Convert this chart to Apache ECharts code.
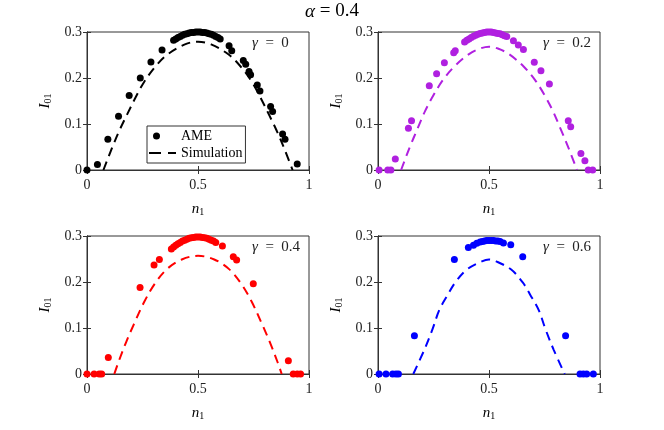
<!DOCTYPE html>
<html>
<head>
<meta charset="utf-8">
<script src="https://cdn.jsdelivr.net/npm/echarts@6/dist/echarts.min.js"></script>
<style>
html,body{margin:0;padding:0;background:#fff;}
#c{width:664px;height:430px;}
</style>
</head>
<body>
<div id="c"></div>
<script>
// ---- data ----
const gammaLabels = ['0', '0.2', '0.4', '0.6'];
const colors = ['#000000', '#b020e0', '#ff0000', '#0000ff'];
const xTicks = [0, 0.5, 1];
const yTicks = [0, 0.1, 0.2, 0.3];

// AME points, gamma = 0
const ame0X = [0, 0.047, 0.094, 0.142, 0.19, 0.24, 0.288, 0.338,
  0.39, 0.40, 0.41, 0.42, 0.43, 0.44, 0.45, 0.46, 0.47, 0.48, 0.49, 0.50, 0.51, 0.52, 0.53, 0.54, 0.55, 0.56, 0.57, 0.58, 0.59, 0.60,
  0.64, 0.652, 0.704, 0.715, 0.73, 0.737, 0.767, 0.779, 0.827, 0.836, 0.881, 0.892, 0.947];
const ame0Y = [0, 0.012, 0.067, 0.117, 0.162, 0.2, 0.235, 0.261,
  0.282, 0.285, 0.288, 0.290, 0.293, 0.295, 0.296, 0.298, 0.299, 0.299, 0.300, 0.300, 0.300, 0.299, 0.299, 0.298, 0.296, 0.295, 0.293, 0.290, 0.288, 0.285,
  0.27, 0.259, 0.238, 0.23, 0.214, 0.207, 0.185, 0.172, 0.138, 0.127, 0.078, 0.067, 0.013];
// AME points, gamma = 0.2
const ame1X = [0.005, 0.044, 0.058, 0.078, 0.137, 0.151, 0.231, 0.264, 0.299, 0.341, 0.348,
  0.39, 0.40, 0.41, 0.42, 0.43, 0.44, 0.45, 0.46, 0.47, 0.48, 0.49, 0.50, 0.51, 0.52, 0.53, 0.54, 0.55, 0.56, 0.57, 0.58,
  0.61, 0.632, 0.655, 0.704, 0.734, 0.772, 0.857, 0.868, 0.914, 0.932, 0.947, 0.967];
const ame1Y = [0, 0, 0, 0.024, 0.091, 0.107, 0.183, 0.209, 0.233, 0.255, 0.259,
  0.278, 0.282, 0.285, 0.288, 0.291, 0.293, 0.295, 0.297, 0.298, 0.299, 0.300, 0.300, 0.300, 0.299, 0.298, 0.297, 0.296, 0.294, 0.292, 0.290,
  0.281, 0.272, 0.262, 0.234, 0.216, 0.187, 0.107, 0.094, 0.036, 0.02, 0, 0];
// AME points, gamma = 0.4
const ame2X = [0, 0.032, 0.055, 0.066, 0.096, 0.239, 0.302, 0.326,
  0.38, 0.39, 0.40, 0.41, 0.42, 0.43, 0.44, 0.45, 0.46, 0.47, 0.48, 0.49, 0.50, 0.51, 0.52, 0.53, 0.54, 0.55, 0.56, 0.57, 0.58,
  0.61, 0.659, 0.674, 0.749, 0.907, 0.929, 0.947, 0.962];
const ame2Y = [0, 0, 0, 0, 0.036, 0.188, 0.237, 0.249,
  0.272, 0.276, 0.280, 0.283, 0.286, 0.289, 0.291, 0.293, 0.295, 0.296, 0.297, 0.298, 0.298, 0.298, 0.297, 0.296, 0.295, 0.293, 0.291, 0.289, 0.286,
  0.278, 0.255, 0.248, 0.196, 0.029, 0, 0, 0];
// AME points, gamma = 0.6
const ame3X = [0.005, 0.036, 0.066, 0.081, 0.092, 0.164, 0.344, 0.407, 0.43, 0.445,
  0.46, 0.47, 0.48, 0.49, 0.50, 0.51, 0.52, 0.53, 0.54, 0.55,
  0.565, 0.598, 0.652, 0.845, 0.91, 0.925, 0.94, 0.97];
const ame3Y = [0, 0, 0, 0, 0, 0.083, 0.249, 0.275, 0.28, 0.284,
  0.287, 0.288, 0.289, 0.290, 0.290, 0.290, 0.290, 0.289, 0.289, 0.288,
  0.285, 0.281, 0.255, 0.083, 0, 0, 0, 0];

// Simulation curves
const sim0X = [0.074, 0.111, 0.147, 0.182, 0.218, 0.258, 0.308, 0.362, 0.441, 0.5, 0.559, 0.638, 0.692, 0.742, 0.782, 0.818, 0.853, 0.889, 0.926];
const sim0Y = [0, 0.046, 0.087, 0.122, 0.157, 0.192, 0.225, 0.251, 0.273, 0.279, 0.273, 0.251, 0.225, 0.192, 0.157, 0.122, 0.087, 0.046, 0];
const sim1X = [0.104, 0.141, 0.179, 0.213, 0.249, 0.293, 0.344, 0.41, 0.46, 0.5, 0.54, 0.59, 0.656, 0.707, 0.751, 0.787, 0.821, 0.859, 0.896];
const sim1Y = [0, 0.047, 0.091, 0.129, 0.162, 0.196, 0.225, 0.252, 0.264, 0.268, 0.264, 0.252, 0.225, 0.196, 0.162, 0.129, 0.091, 0.047, 0];
const sim2X = [0.123, 0.141, 0.176, 0.212, 0.258, 0.305, 0.36, 0.427, 0.5, 0.573, 0.64, 0.695, 0.742, 0.788, 0.824, 0.859, 0.877];
const sim2Y = [0, 0.025, 0.069, 0.109, 0.157, 0.196, 0.228, 0.249, 0.257, 0.249, 0.228, 0.196, 0.157, 0.109, 0.069, 0.025, 0];
const sim3X = [0.159, 0.209, 0.246, 0.276, 0.314, 0.348, 0.4, 0.468, 0.5, 0.532, 0.6, 0.652, 0.686, 0.724, 0.754, 0.791, 0.841];
const sim3Y = [0, 0.053, 0.098, 0.139, 0.172, 0.199, 0.227, 0.245, 0.249, 0.245, 0.227, 0.199, 0.172, 0.139, 0.098, 0.053, 0];

const ameX = [ame0X, ame1X, ame2X, ame3X];
const ameY = [ame0Y, ame1Y, ame2Y, ame3Y];
const simX = [sim0X, sim1X, sim2X, sim3X];
const simY = [sim0Y, sim1Y, sim2Y, sim3Y];

// ---- layout ----
const FONT = 'Liberation Serif';
const AX = '#333333';
const gridPos = [
  {left: 87, top: 32}, {left: 378, top: 32},
  {left: 87, top: 236}, {left: 378, top: 236}
];
const PW = 222, PH = 138;

const zip = (xs, ys) => xs.map((x, i) => [x, ys[i]]);

const grid = [], xAxis = [], yAxis = [], series = [], title = [];
title.push({
  text: '{a|α} = 0.4', left: 'center', top: 2, padding: 0,
  textStyle: {fontFamily: FONT, fontSize: 19, fontWeight: 'normal', color: '#000',
    rich: {a: {fontFamily: FONT, fontStyle: 'italic', fontSize: 19, color: '#000'}}}
});
const fmtX = v => (v === 0 ? '0' : v === 1 ? '1' : String(+v.toFixed(1)));
const fmtY = v => (Math.abs(v) < 1e-9 ? '0' : String(+v.toFixed(1)));
const nameRich = {
  i: {fontFamily: FONT, fontStyle: 'italic', fontSize: 15, lineHeight: 18, verticalAlign: 'bottom', color: '#000'},
  s: {fontFamily: FONT, fontSize: 10, lineHeight: 10, verticalAlign: 'bottom', color: '#000'}
};

for (let k = 0; k < 4; k++) {
  const g = gridPos[k];
  grid.push({left: g.left, top: g.top, width: PW, height: PH, show: true,
    borderColor: AX, borderWidth: 1, backgroundColor: 'transparent'});
  const xBase = {
    gridIndex: k, type: 'value', min: xTicks[0], max: xTicks[xTicks.length - 1], interval: 0.5,
    splitLine: {show: false},
    axisLine: {show: true, lineStyle: {color: AX, width: 1}},
    axisTick: {show: true, inside: true, length: 4, lineStyle: {color: AX}}
  };
  xAxis.push(Object.assign({}, xBase, {
    position: 'bottom',
    axisLabel: {show: true, formatter: fmtX, fontFamily: FONT, fontSize: 14, color: '#222', margin: 8},
    name: '{i|n}{s|1}', nameLocation: 'middle', nameGap: 29,
    nameTextStyle: {rich: nameRich}
  }));
  xAxis.push(Object.assign({}, xBase, {position: 'top', axisLabel: {show: false}}));
  const yBase = {
    gridIndex: k, type: 'value', min: yTicks[0], max: yTicks[yTicks.length - 1], interval: 0.1,
    splitLine: {show: false},
    axisLine: {show: true, lineStyle: {color: AX, width: 1}},
    axisTick: {show: true, inside: true, length: 4, lineStyle: {color: AX}}
  };
  yAxis.push(Object.assign({}, yBase, {
    position: 'left',
    axisLabel: {show: true, formatter: fmtY, fontFamily: FONT, fontSize: 14, color: '#222', margin: 5},
    name: '{i|I}{s|01}', nameLocation: 'middle', nameGap: 34, nameRotate: 90,
    nameTextStyle: {rich: nameRich}
  }));
  yAxis.push(Object.assign({}, yBase, {position: 'right', axisLabel: {show: false}}));

  const first = k === 0;
  series.push({
    name: first ? 'Simulation' : 'Simulation ' + k,
    type: 'line', xAxisIndex: 2 * k, yAxisIndex: 2 * k,
    data: zip(simX[k], simY[k]), smooth: 0.35, symbol: 'none', showSymbol: false,
    lineStyle: {color: colors[k], width: 2, type: [9, 6]},
    itemStyle: {color: colors[k]}, z: 2, silent: true
  });
  series.push({
    name: first ? 'AME' : 'AME ' + k,
    type: 'scatter', xAxisIndex: 2 * k, yAxisIndex: 2 * k,
    data: zip(ameX[k], ameY[k]), symbol: 'circle', symbolSize: 7, clip: false,
    itemStyle: {color: colors[k], opacity: 1}, z: 3, silent: true
  });
  title.push({
    text: '{g|γ}  =  ' + gammaLabels[k],
    left: g.left + 165, top: g.top + 4, padding: 0,
    textStyle: {fontFamily: FONT, fontSize: 15, fontWeight: 'normal', color: '#222',
      rich: {g: {fontFamily: FONT, fontStyle: 'italic', fontSize: 15, color: '#222'}}}
  });
}

const option = {
  animation: false,
  backgroundColor: '#fff',
  title: title,
  grid: grid, xAxis: xAxis, yAxis: yAxis, series: series,
  legend: {
    data: [
      {name: 'AME', icon: 'path://M4,3.5a3.5,3.5 0 1,0 7,0a3.5,3.5 0 1,0 -7,0ZM0,0L0,0M27,7L27,7'},
      {name: 'Simulation', icon: 'path://M0,2.5H12V4.5H0ZM19,2.5H27V4.5H19ZM0,0L0,0M27,7L27,7'}
    ],
    orient: 'vertical', left: 147, top: 126,
    padding: [3, 3, 3, 2], itemGap: 3, itemWidth: 27, itemHeight: 7,
    borderColor: AX, borderWidth: 1, backgroundColor: '#fff',
    textStyle: {fontFamily: FONT, fontSize: 14, color: '#000'},
    itemStyle: {color: '#000'},
    selectedMode: false
  }
};
const chart = echarts.init(document.getElementById('c'), null, {renderer: 'canvas'});
chart.setOption(option);
</script>
</body>
</html>
